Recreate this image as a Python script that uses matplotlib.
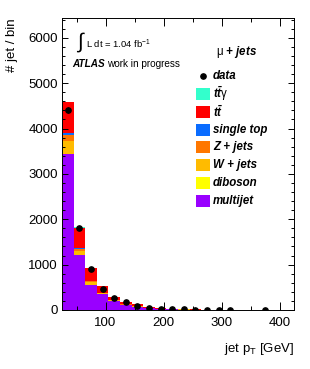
import numpy as np
import matplotlib
matplotlib.use("Agg")
import matplotlib.pyplot as plt
from matplotlib.patches import Rectangle
from matplotlib.ticker import MultipleLocator

plt.rcParams['font.family'] = ['Liberation Sans', 'DejaVu Sans']
plt.rcParams['mathtext.fontset'] = 'custom'
plt.rcParams['mathtext.rm'] = 'Liberation Sans'
plt.rcParams['mathtext.it'] = 'Liberation Sans:italic'
plt.rcParams['mathtext.bf'] = 'Liberation Sans:bold'
plt.rcParams['mathtext.bfit'] = 'Liberation Sans:italic:bold'

# jet pT bins, 20 GeV wide from 25 to 425 GeV
bin_edges = np.arange(25, 426, 20)

multijet = [3430, 1205, 550, 346, 200, 103, 73, 44, 22, 14, 9, 6, 4, 3, 2, 1.5, 1, 0.7, 0.5, 0.4]
diboson = [8, 4, 2, 1, 1, 0.5, 0.4, 0.3, 0.2, 0.1, 0.1, 0.1, 0.05, 0.05, 0.05, 0.05, 0.05, 0.05, 0.05, 0.05]
wjets = [277, 88, 62, 22, 13, 15, 8, 5, 4, 3, 2, 1.5, 1, 0.8, 0.6, 0.5, 0.3, 0.3, 0.2, 0.1]
zjets = [132, 44, 25, 10, 6, 5, 3, 2, 2, 1, 1, 0.5, 0.5, 0.3, 0.2, 0.2, 0.1, 0.1, 0.05, 0.05]
single_top = [44, 29, 10, 5, 3, 3, 2, 1, 1, 1, 0.5, 0.5, 0.3, 0.2, 0.1, 0.1, 0.1, 0.05, 0.05, 0.05]
ttbar = [692, 447, 285, 146, 63, 57, 38, 21, 15, 9, 5.5, 3.5, 2.2, 1.7, 1.1, 0.7, 0.5, 0.35, 0.2, 0.2]
ttgamma = [4, 3, 2, 1, 1, 0.5, 0.5, 0.3, 0.2, 0.1, 0.1, 0.1, 0.05, 0.05, 0.05, 0.05, 0.05, 0.05, 0.05, 0.05]
data = [4405, 1805, 905, 465, 258, 170, 88, 51, 22, 15, 12, 10, 6, 5, 4, 0, 0, 3, 0, 0]

samples = [
    ("multijet", multijet, "#9900ff"),
    ("diboson", diboson, "#ffff00"),
    ("W + jets", wjets, "#ffbb00"),
    ("Z + jets", zjets, "#ff7700"),
    ("single top", single_top, "#0a6cff"),
    (r"t$\bar{t}$", ttbar, "#ff0000"),
    (r"t$\bar{t}\gamma$", ttgamma, "#33ffcc"),
]
legend_labels = ["data", r"$\mathbfit{t\bar{t}}\mathrm{\gamma}$", r"$\mathbfit{t\bar{t}}$",
                 "single top", "Z + jets", "W + jets", "diboson", "multijet"]

W, H = 310, 369
fig = plt.figure(figsize=(W / 100, H / 100), dpi=100)
ax = fig.add_axes([62 / W, 1 - 310 / H, (294 - 62) / W, (310 - 18.3) / H])

widths = np.diff(bin_edges)
bottom = np.zeros(len(widths))
for name, vals, col in samples:
    vals = np.array(vals, dtype=float)
    ax.bar(bin_edges[:-1], vals, width=widths, bottom=bottom, align='edge',
           color=col, linewidth=0)
    bottom += vals

centers = 0.5 * (bin_edges[:-1] + bin_edges[1:])
d = np.array(data, dtype=float)
m = d > 0
ax.errorbar(centers[m], d[m], yerr=np.sqrt(d[m]), fmt='o', ms=3.8, color='black',
            elinewidth=0.8, capsize=0)

ax.set_xlim(25, 425)
ax.set_ylim(0, 6430)
ax.xaxis.set_major_locator(MultipleLocator(100))
ax.xaxis.set_minor_locator(MultipleLocator(50))
ax.yaxis.set_major_locator(MultipleLocator(1000))
ax.yaxis.set_minor_locator(MultipleLocator(200))
ax.tick_params(which='both', direction='in', top=True, right=True, labelsize=9.5, width=0.7)
ax.tick_params(axis='x', which='major', length=5.5, pad=5)
ax.tick_params(axis='x', which='minor', length=3)
ax.tick_params(axis='y', which='major', length=4.5, pad=3)
ax.tick_params(axis='y', which='minor', length=2.2)
for s in ax.spines.values():
    s.set_linewidth(0.7)

fig.text(12 / W, 1 - 18 / H, "# jet / bin", rotation=90, ha='center', va='top', fontsize=9.5)
fig.text(294 / W, 1 - 349 / H, r"jet p$_\mathrm{T}$ [GeV]", ha='right', va='center', fontsize=9.5)

# labels
fig.text(76 / W, 1 - 42 / H, r"$\int$", ha='left', va='center', fontsize=15)
fig.text(86 / W, 1 - 44 / H, r"L dt = 1.04 fb$^{-1}$", ha='left', va='center', fontsize=6.8)
fig.text(72 / W, 1 - 64 / H, "ATLAS", ha='left', va='center', fontsize=7.2,
         fontweight='bold', fontstyle='italic')
fig.text(107 / W, 1 - 64 / H, "work in progress", ha='left', va='center', fontsize=7.2)
fig.text(216 / W, 1 - 52 / H, r"$\mathrm{\mu}$ $\mathbfit{+\ jets}$", ha='left', va='center', fontsize=8.3)

# legend
row0, step = 76.4, 17.75
fig.lines.append(plt.Line2D([203 / W], [1 - row0 / H], marker='o', ms=3.8, color='black',
                            transform=fig.transFigure))
leg_colors = [None] + [s[2] for s in samples[::-1]]
for i, (lab, col) in enumerate(zip(legend_labels, leg_colors)):
    y = row0 + i * step
    if col is not None:
        fig.patches.append(Rectangle((196 / W, 1 - (y + 6) / H), 14 / W, 12 / H,
                                     facecolor=col, edgecolor='none', transform=fig.transFigure))
    fig.text(213 / W, 1 - y / H, lab, ha='left', va='center', fontsize=8.3,
             fontweight='bold', fontstyle='italic')

fig.savefig("out.png", dpi=100)
